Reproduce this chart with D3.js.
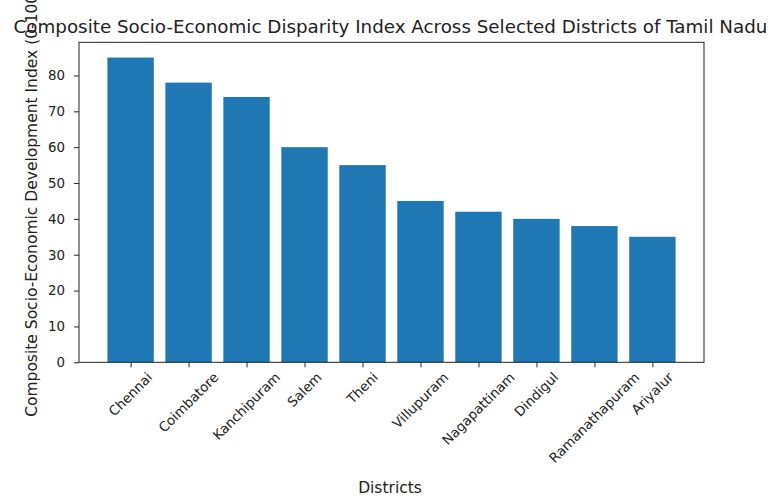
<!DOCTYPE html>
<html>
<head>
<meta charset="utf-8">
<script src="https://cdn.jsdelivr.net/npm/d3@7"></script>
<style>
  html, body { margin: 0; padding: 0; background: #fff; }
  svg { display: block; font-family: "DejaVu Sans", sans-serif; }
</style>
</head>
<body>
<svg id="chart" width="774" height="497"></svg>
<script>
// District names and their composite index scores (0-100)
const districts = ["Chennai", "Coimbatore", "Kanchipuram", "Salem", "Theni",
  "Villupuram", "Nagapattinam", "Dindigul", "Ramanathapuram", "Ariyalur"];
const scores = [85, 78, 74, 60, 55, 45, 42, 40, 38, 35];
const yTicks = [0, 10, 20, 30, 40, 50, 60, 70, 80];

const titleText = "Composite Socio-Economic Disparity Index Across Selected Districts of Tamil Nadu";
const xLabelText = "Districts";
const yLabelText = "Composite Socio-Economic Development Index (0-100)";

const W = 774, H = 497;
const plot = { left: 79, right: 704, top: 42.3, bottom: 362.3 };
const barColor = "#1f77b4";
const tickFont = 13.4;
const labelFont = 15.5;
const titleFont = 18.3;

const svg = d3.select("#chart");

// Band positions follow a unit-spaced layout: bars 0.8 wide with 5% margins
const n = districts.length;
const x = d3.scaleLinear()
  .domain([-0.4 - 0.05 * (n - 0.2), n - 0.6 + 0.05 * (n - 0.2)])
  .range([plot.left, plot.right]);
const yMax = d3.max(scores) * 1.05;
const y = d3.scaleLinear().domain([0, yMax]).range([plot.bottom, plot.top]);

// Bars
svg.append("g").selectAll("rect")
  .data(scores)
  .join("rect")
  .attr("x", (d, i) => x(i - 0.4))
  .attr("width", (d, i) => x(i + 0.4) - x(i - 0.4))
  .attr("y", d => y(d))
  .attr("height", d => y(0) - y(d))
  .attr("fill", barColor);

// Y axis
const yAxis = svg.append("g")
  .attr("transform", `translate(${plot.left},0)`)
  .call(d3.axisLeft(y).tickValues(yTicks).tickSize(5).tickPadding(9).tickFormat(d3.format("d")));
yAxis.select(".domain").remove();
yAxis.selectAll("line").attr("stroke", "#222").attr("stroke-width", 1);
yAxis.selectAll("text").attr("font-size", tickFont).attr("fill", "#222")
  .attr("font-family", "DejaVu Sans, sans-serif");

// X axis ticks
const xAxis = svg.append("g")
  .attr("transform", `translate(0,${plot.bottom})`)
  .call(d3.axisBottom(x).tickValues(d3.range(n)).tickSize(5).tickFormat(""));
xAxis.select(".domain").remove();
xAxis.selectAll("line").attr("stroke", "#222").attr("stroke-width", 1);

// Rotated category labels, bounding box centred under each tick
const labelTop = plot.bottom + 8;
const labels = svg.append("g").selectAll("text")
  .data(districts)
  .join("text")
  .attr("font-size", tickFont)
  .attr("fill", "#222")
  .attr("text-anchor", "middle")
  .attr("dominant-baseline", "central")
  .text(d => d);
labels.each(function (d, i) {
  const w = this.getComputedTextLength();
  const h = tickFont * 1.0;
  const half = (w + h) * Math.SQRT1_2 / 2;
  const cx = x(i), cy = labelTop + half;
  d3.select(this).attr("x", cx).attr("y", cy)
    .attr("transform", `rotate(-45,${cx},${cy})`);
});

// Frame
svg.append("rect")
  .attr("x", plot.left).attr("y", plot.top)
  .attr("width", plot.right - plot.left).attr("height", plot.bottom - plot.top)
  .attr("fill", "none").attr("stroke", "#222").attr("stroke-width", 1);

// Title
svg.append("text")
  .attr("x", 390.5)
  .attr("y", 33)
  .attr("text-anchor", "middle")
  .attr("font-size", titleFont)
  .attr("fill", "#222")
  .text(titleText);

// Axis titles
svg.append("text")
  .attr("x", 390)
  .attr("y", 493)
  .attr("text-anchor", "middle")
  .attr("font-size", labelFont)
  .attr("fill", "#222")
  .text(xLabelText);

svg.append("text")
  .attr("transform", `translate(37,${(plot.top + plot.bottom) / 2}) rotate(-90)`)
  .attr("text-anchor", "middle")
  .attr("font-size", labelFont)
  .attr("fill", "#222")
  .text(yLabelText);
</script>
</body>
</html>
